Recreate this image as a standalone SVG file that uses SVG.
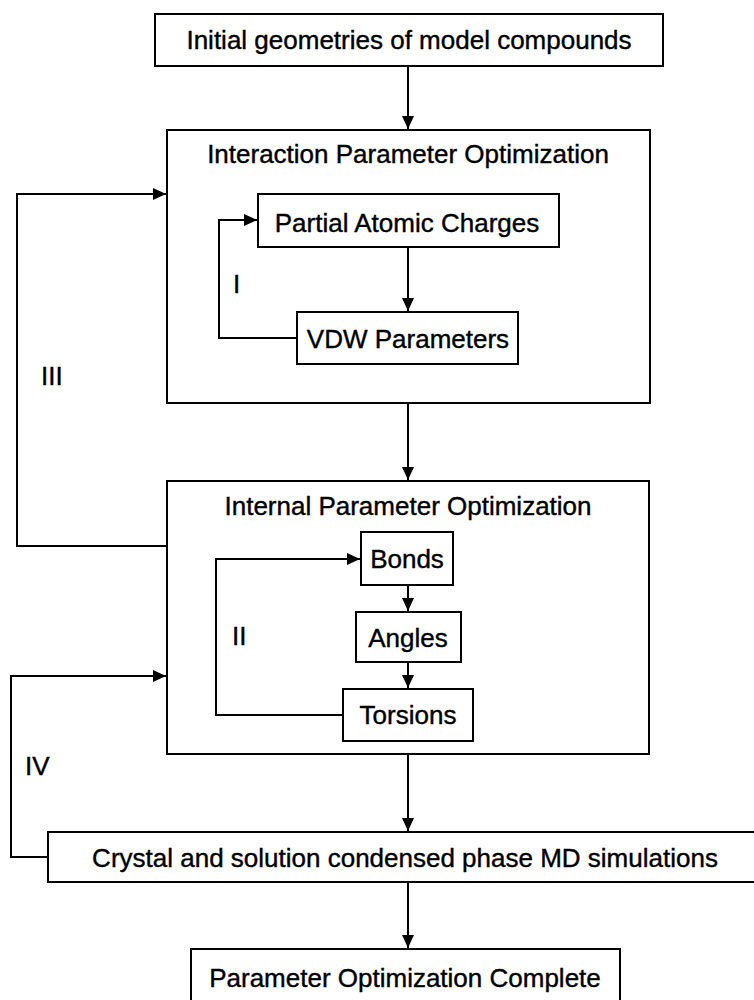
<svg xmlns="http://www.w3.org/2000/svg" width="754" height="1000" viewBox="0 0 754 1000">
<style>
.box{fill:#fff;stroke:#000;stroke-width:2}
.t{font-family:"Liberation Sans",Arial,sans-serif;font-size:26px;fill:#000;stroke:#000;stroke-width:0.4;text-anchor:middle}
.lbl{font-family:"Liberation Sans",Arial,sans-serif;font-size:26px;fill:#000;stroke:#000;stroke-width:0.4}
.c{fill:none;stroke:#000;stroke-width:2}
</style>
<defs>
<marker id="ah" viewBox="0 0 13 12" refX="13" refY="6" markerWidth="13" markerHeight="12" markerUnits="userSpaceOnUse" orient="auto">
<path d="M0,0 L13,6 L0,12 Z" fill="#000"/>
</marker>
</defs>
<rect width="754" height="1000" fill="#fff"/>
<g id="initial">
<rect class="box" x="155" y="14" width="508" height="52"/>
<text class="t" x="409" y="49">Initial geometries of model compounds</text>
</g>
<g id="interaction">
<rect class="box" x="167" y="130" width="483" height="273"/>
<text class="t" x="408" y="163">Interaction Parameter Optimization</text>
</g>
<g id="charges">
<rect class="box" x="258" y="194" width="301" height="53"/>
<text class="t" x="407" y="232">Partial Atomic Charges</text>
</g>
<g id="vdw">
<rect class="box" x="297" y="312" width="221" height="52"/>
<text class="t" x="408" y="348">VDW Parameters</text>
</g>
<g id="internal">
<rect class="box" x="167" y="481" width="482" height="273"/>
<text class="t" x="408" y="515">Internal Parameter Optimization</text>
</g>
<g id="bonds">
<rect class="box" x="361" y="532" width="92" height="53"/>
<text class="t" x="407" y="568">Bonds</text>
</g>
<g id="angles">
<rect class="box" x="356" y="612" width="105" height="50"/>
<text class="t" x="408" y="647">Angles</text>
</g>
<g id="torsions">
<rect class="box" x="343" y="689" width="130" height="52"/>
<text class="t" x="408" y="724">Torsions</text>
</g>
<g id="crystal">
<rect class="box" x="48" y="832" width="712" height="50"/>
<text class="t" x="405" y="867">Crystal and solution condensed phase MD simulations</text>
</g>
<g id="complete">
<rect class="box" x="191" y="949" width="429" height="60"/>
<text class="t" x="405" y="987">Parameter Optimization Complete</text>
</g>
<g id="connectors">
<path class="c" d="M408,66 V129" marker-end="url(#ah)"/>
<path class="c" d="M408,247 V311" marker-end="url(#ah)"/>
<path class="c" d="M297,338 H219 V220 H257" marker-end="url(#ah)"/>
<path class="c" d="M408,403 V480" marker-end="url(#ah)"/>
<path class="c" d="M167,546 H17 V194 H166" marker-end="url(#ah)"/>
<path class="c" d="M408,585 V611" marker-end="url(#ah)"/>
<path class="c" d="M408,662 V688" marker-end="url(#ah)"/>
<path class="c" d="M343,715 H216 V559 H360" marker-end="url(#ah)"/>
<path class="c" d="M48,857 H11 V676 H166" marker-end="url(#ah)"/>
<path class="c" d="M408,754 V831" marker-end="url(#ah)"/>
<path class="c" d="M408,882 V948" marker-end="url(#ah)"/>
</g>
<g id="labels">
<text class="lbl" x="233" y="293">I</text>
<text class="lbl" x="232" y="645">II</text>
<text class="lbl" x="41" y="385">III</text>
<text class="lbl" x="25" y="775">IV</text>
</g>
</svg>
